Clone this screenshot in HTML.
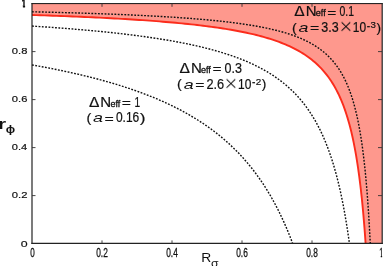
<!DOCTYPE html>
<html><head><meta charset="utf-8"><style>
html,body{margin:0;padding:0;background:#fff;}
body{width:383px;height:266px;overflow:hidden;position:relative;font-family:"Liberation Sans",sans-serif;}
svg{position:absolute;left:0;top:0;}
text{font-family:"Liberation Sans",sans-serif;fill:#111;vector-effect:non-scaling-stroke;}
</style></head><body>
<svg style="will-change:transform" width="383" height="266" viewBox="0 0 383 266">
<rect width="383" height="266" fill="#fff"/>
<defs>
<clipPath id="cy1"><path d="M20,-2 H25.1 V9 H22.9 V5.5 H20 Z"/></clipPath>
<clipPath id="cx1"><path d="M377,245 H383 V255.5 H382.1 V259 H380.8 V255.5 H377 Z"/></clipPath>
</defs>
<path d="M32.00,14.98 L36.18,15.12 L40.34,15.26 L44.47,15.40 L48.57,15.54 L52.65,15.69 L56.70,15.83 L60.73,15.99 L64.73,16.14 L68.70,16.30 L72.65,16.46 L76.56,16.62 L80.46,16.79 L84.32,16.96 L88.16,17.13 L91.98,17.30 L95.77,17.48 L99.53,17.67 L103.26,17.85 L106.97,18.04 L110.65,18.24 L114.31,18.44 L117.94,18.64 L121.54,18.84 L125.11,19.05 L128.66,19.27 L132.19,19.49 L135.68,19.71 L139.16,19.94 L142.60,20.17 L146.02,20.41 L149.41,20.65 L152.77,20.90 L156.11,21.15 L159.43,21.41 L162.71,21.68 L165.97,21.95 L169.20,22.22 L172.41,22.51 L175.59,22.80 L178.74,23.09 L181.87,23.39 L184.97,23.70 L188.05,24.02 L191.10,24.34 L194.12,24.67 L197.11,25.01 L200.08,25.36 L203.03,25.72 L205.94,26.08 L208.83,26.45 L211.70,26.83 L214.53,27.22 L217.34,27.63 L220.13,28.04 L222.89,28.46 L225.62,28.89 L228.32,29.33 L231.00,29.78 L233.66,30.25 L236.28,30.73 L238.88,31.22 L241.45,31.72 L244.00,32.24 L246.52,32.77 L249.02,33.31 L251.48,33.87 L253.93,34.44 L256.34,35.03 L258.73,35.64 L261.09,36.26 L263.43,36.90 L265.74,37.56 L268.02,38.24 L270.28,38.94 L272.51,39.65 L274.71,40.39 L276.89,41.15 L279.04,41.93 L281.16,42.74 L283.26,43.56 L285.33,44.42 L287.38,45.30 L289.40,46.20 L291.39,47.14 L293.36,48.10 L295.30,49.09 L297.21,50.11 L299.10,51.17 L300.96,52.26 L302.79,53.38 L304.60,54.54 L306.38,55.74 L308.14,56.97 L309.86,58.25 L311.57,59.56 L313.24,60.93 L314.89,62.33 L316.52,63.78 L318.11,65.28 L319.68,66.83 L321.23,68.44 L322.74,70.09 L324.24,71.81 L325.70,73.58 L327.14,75.41 L328.55,77.30 L329.94,79.26 L331.30,81.28 L332.63,83.38 L333.94,85.54 L335.22,87.78 L336.47,90.09 L337.70,92.48 L338.90,94.96 L340.07,97.51 L341.22,100.15 L342.34,102.88 L343.44,105.69 L344.51,108.60 L345.55,111.60 L346.56,114.69 L347.55,117.88 L348.52,121.16 L349.45,124.54 L350.36,128.02 L351.25,131.59 L352.11,135.26 L352.94,139.02 L353.74,142.87 L354.52,146.82 L355.27,150.84 L356.00,154.95 L356.70,159.13 L357.37,163.37 L358.02,167.68 L358.64,172.03 L359.23,176.42 L359.80,180.83 L360.34,185.26 L360.86,189.68 L361.34,194.07 L361.81,198.42 L362.24,202.71 L362.65,206.92 L363.03,211.02 L363.39,214.99 L363.72,218.80 L364.02,222.43 L364.30,225.86 L364.55,229.05 L364.78,231.98 L364.97,234.64 L365.14,236.99 L365.29,239.01 L365.41,240.70 L365.50,242.02 L365.57,242.98 L365.61,243.56 L365.62,243.75 L382.00,243.75 L382.00,3.75 L32.00,3.75 Z" fill="#fe988d"/>
<path d="M32.00,14.98 L36.18,15.12 L40.34,15.26 L44.47,15.40 L48.57,15.54 L52.65,15.69 L56.70,15.83 L60.73,15.99 L64.73,16.14 L68.70,16.30 L72.65,16.46 L76.56,16.62 L80.46,16.79 L84.32,16.96 L88.16,17.13 L91.98,17.30 L95.77,17.48 L99.53,17.67 L103.26,17.85 L106.97,18.04 L110.65,18.24 L114.31,18.44 L117.94,18.64 L121.54,18.84 L125.11,19.05 L128.66,19.27 L132.19,19.49 L135.68,19.71 L139.16,19.94 L142.60,20.17 L146.02,20.41 L149.41,20.65 L152.77,20.90 L156.11,21.15 L159.43,21.41 L162.71,21.68 L165.97,21.95 L169.20,22.22 L172.41,22.51 L175.59,22.80 L178.74,23.09 L181.87,23.39 L184.97,23.70 L188.05,24.02 L191.10,24.34 L194.12,24.67 L197.11,25.01 L200.08,25.36 L203.03,25.72 L205.94,26.08 L208.83,26.45 L211.70,26.83 L214.53,27.22 L217.34,27.63 L220.13,28.04 L222.89,28.46 L225.62,28.89 L228.32,29.33 L231.00,29.78 L233.66,30.25 L236.28,30.73 L238.88,31.22 L241.45,31.72 L244.00,32.24 L246.52,32.77 L249.02,33.31 L251.48,33.87 L253.93,34.44 L256.34,35.03 L258.73,35.64 L261.09,36.26 L263.43,36.90 L265.74,37.56 L268.02,38.24 L270.28,38.94 L272.51,39.65 L274.71,40.39 L276.89,41.15 L279.04,41.93 L281.16,42.74 L283.26,43.56 L285.33,44.42 L287.38,45.30 L289.40,46.20 L291.39,47.14 L293.36,48.10 L295.30,49.09 L297.21,50.11 L299.10,51.17 L300.96,52.26 L302.79,53.38 L304.60,54.54 L306.38,55.74 L308.14,56.97 L309.86,58.25 L311.57,59.56 L313.24,60.93 L314.89,62.33 L316.52,63.78 L318.11,65.28 L319.68,66.83 L321.23,68.44 L322.74,70.09 L324.24,71.81 L325.70,73.58 L327.14,75.41 L328.55,77.30 L329.94,79.26 L331.30,81.28 L332.63,83.38 L333.94,85.54 L335.22,87.78 L336.47,90.09 L337.70,92.48 L338.90,94.96 L340.07,97.51 L341.22,100.15 L342.34,102.88 L343.44,105.69 L344.51,108.60 L345.55,111.60 L346.56,114.69 L347.55,117.88 L348.52,121.16 L349.45,124.54 L350.36,128.02 L351.25,131.59 L352.11,135.26 L352.94,139.02 L353.74,142.87 L354.52,146.82 L355.27,150.84 L356.00,154.95 L356.70,159.13 L357.37,163.37 L358.02,167.68 L358.64,172.03 L359.23,176.42 L359.80,180.83 L360.34,185.26 L360.86,189.68 L361.34,194.07 L361.81,198.42 L362.24,202.71 L362.65,206.92 L363.03,211.02 L363.39,214.99 L363.72,218.80 L364.02,222.43 L364.30,225.86 L364.55,229.05 L364.78,231.98 L364.97,234.64 L365.14,236.99 L365.29,239.01 L365.41,240.70 L365.50,242.02 L365.57,242.98 L365.61,243.56 L365.62,243.75" fill="none" stroke="#fb2c1c" stroke-width="1.9"/>
<g fill="none" stroke="#111" stroke-width="1.4" stroke-dasharray="1.8,1.5">
<path d="M32.00,64.95 L35.27,65.53 L38.52,66.11 L41.75,66.70 L44.95,67.30 L48.14,67.91 L51.31,68.52 L54.45,69.15 L57.58,69.78 L60.68,70.41 L63.77,71.06 L66.83,71.71 L69.87,72.38 L72.90,73.05 L75.90,73.73 L78.88,74.41 L81.84,75.11 L84.78,75.82 L87.70,76.53 L90.59,77.26 L93.47,77.99 L96.33,78.73 L99.17,79.48 L101.98,80.24 L104.78,81.02 L107.55,81.80 L110.30,82.59 L113.04,83.39 L115.75,84.20 L118.44,85.02 L121.11,85.85 L123.76,86.70 L126.39,87.55 L129.00,88.42 L131.59,89.29 L134.16,90.18 L136.71,91.07 L139.24,91.98 L141.74,92.90 L144.23,93.84 L146.69,94.78 L149.14,95.74 L151.56,96.70 L153.96,97.68 L156.35,98.67 L158.71,99.68 L161.05,100.69 L163.37,101.72 L165.67,102.77 L167.95,103.82 L170.21,104.89 L172.45,105.97 L174.66,107.06 L176.86,108.17 L179.04,109.29 L181.19,110.42 L183.33,111.57 L185.44,112.73 L187.54,113.90 L189.61,115.09 L191.66,116.29 L193.69,117.50 L195.70,118.73 L197.70,119.97 L199.67,121.23 L201.61,122.50 L203.54,123.78 L205.45,125.08 L207.34,126.39 L209.21,127.71 L211.05,129.05 L212.88,130.40 L214.68,131.77 L216.47,133.15 L218.23,134.54 L219.97,135.95 L221.70,137.37 L223.40,138.81 L225.08,140.25 L226.74,141.71 L228.38,143.18 L230.00,144.67 L231.60,146.17 L233.18,147.68 L234.73,149.20 L236.27,150.73 L237.79,152.28 L239.28,153.84 L240.76,155.40 L242.21,156.98 L243.64,158.57 L245.06,160.17 L246.45,161.77 L247.82,163.39 L249.17,165.01 L250.50,166.64 L251.81,168.28 L253.10,169.93 L254.37,171.58 L255.62,173.24 L256.85,174.90 L258.05,176.57 L259.24,178.24 L260.41,179.91 L261.55,181.58 L262.67,183.26 L263.78,184.93 L264.86,186.61 L265.92,188.28 L266.96,189.95 L267.99,191.62 L268.99,193.28 L269.97,194.94 L270.93,196.59 L271.86,198.24 L272.78,199.87 L273.68,201.50 L274.56,203.11 L275.41,204.71 L276.25,206.30 L277.06,207.87 L277.86,209.43 L278.63,210.97 L279.38,212.49 L280.12,213.99 L280.83,215.47 L281.52,216.92 L282.19,218.35 L282.84,219.76 L283.47,221.14 L284.08,222.49 L284.66,223.81 L285.23,225.10 L285.78,226.36 L286.30,227.58 L286.81,228.77 L287.29,229.92 L287.76,231.04 L288.20,232.11 L288.62,233.15 L289.03,234.14 L289.41,235.09 L289.77,235.99 L290.11,236.85 L290.43,237.67 L290.73,238.43 L291.01,239.15 L291.26,239.82 L291.50,240.44 L291.72,241.01 L291.91,241.52 L292.09,241.99 L292.24,242.40 L292.38,242.76 L292.49,243.06 L292.58,243.31 L292.66,243.50 L292.71,243.64 L292.74,243.72 L292.75,243.75"/>
<path d="M32.00,26.07 L35.98,26.33 L39.94,26.59 L43.87,26.85 L47.77,27.12 L51.65,27.40 L55.51,27.68 L59.34,27.96 L63.14,28.25 L66.92,28.54 L70.68,28.84 L74.40,29.15 L78.11,29.46 L81.79,29.77 L85.44,30.09 L89.07,30.42 L92.67,30.75 L96.25,31.09 L99.81,31.43 L103.34,31.78 L106.84,32.14 L110.32,32.50 L113.77,32.87 L117.20,33.25 L120.60,33.64 L123.98,34.03 L127.33,34.43 L130.66,34.83 L133.96,35.25 L137.24,35.67 L140.49,36.10 L143.72,36.53 L146.92,36.98 L150.10,37.44 L153.25,37.90 L156.38,38.37 L159.48,38.86 L162.55,39.35 L165.60,39.85 L168.63,40.36 L171.63,40.88 L174.61,41.42 L177.56,41.96 L180.48,42.52 L183.39,43.08 L186.26,43.66 L189.11,44.25 L191.94,44.85 L194.74,45.47 L197.51,46.09 L200.26,46.73 L202.99,47.39 L205.69,48.06 L208.36,48.74 L211.01,49.44 L213.63,50.15 L216.23,50.88 L218.81,51.62 L221.36,52.38 L223.88,53.16 L226.38,53.95 L228.85,54.76 L231.30,55.59 L233.73,56.44 L236.12,57.30 L238.50,58.19 L240.85,59.09 L243.17,60.02 L245.47,60.97 L247.74,61.94 L249.99,62.93 L252.21,63.94 L254.41,64.98 L256.58,66.04 L258.73,67.12 L260.85,68.23 L262.95,69.37 L265.02,70.53 L267.06,71.72 L269.09,72.94 L271.08,74.18 L273.05,75.46 L275.00,76.76 L276.92,78.09 L278.82,79.46 L280.69,80.86 L282.53,82.29 L284.36,83.75 L286.15,85.25 L287.92,86.79 L289.67,88.36 L291.39,89.96 L293.08,91.61 L294.75,93.29 L296.40,95.01 L298.02,96.77 L299.61,98.57 L301.18,100.41 L302.73,102.29 L304.25,104.22 L305.74,106.19 L307.21,108.20 L308.65,110.26 L310.07,112.36 L311.47,114.50 L312.83,116.70 L314.18,118.93 L315.50,121.22 L316.79,123.55 L318.06,125.92 L319.30,128.35 L320.52,130.81 L321.71,133.33 L322.88,135.89 L324.02,138.49 L325.14,141.14 L326.23,143.83 L327.30,146.56 L328.34,149.34 L329.36,152.15 L330.35,155.00 L331.32,157.89 L332.26,160.81 L333.18,163.75 L334.07,166.73 L334.93,169.73 L335.78,172.75 L336.59,175.79 L337.38,178.84 L338.15,181.90 L338.89,184.96 L339.61,188.02 L340.30,191.07 L340.96,194.11 L341.60,197.13 L342.22,200.12 L342.81,203.07 L343.37,205.99 L343.91,208.86 L344.43,211.67 L344.92,214.41 L345.38,217.09 L345.82,219.68 L346.24,222.18 L346.62,224.58 L346.99,226.88 L347.33,229.06 L347.64,231.12 L347.93,233.05 L348.19,234.84 L348.43,236.48 L348.65,237.97 L348.83,239.30 L349.00,240.46 L349.14,241.46 L349.25,242.28 L349.34,242.92 L349.40,243.38 L349.44,243.66 L349.45,243.75"/>
<path d="M32.00,11.79 L36.24,11.89 L40.46,11.99 L44.64,12.09 L48.81,12.20 L52.94,12.30 L57.05,12.41 L61.13,12.52 L65.18,12.63 L69.21,12.75 L73.21,12.86 L77.19,12.98 L81.13,13.10 L85.05,13.23 L88.95,13.35 L92.81,13.48 L96.66,13.61 L100.47,13.75 L104.26,13.88 L108.02,14.02 L111.75,14.16 L115.45,14.31 L119.13,14.46 L122.79,14.61 L126.41,14.76 L130.01,14.92 L133.59,15.08 L137.13,15.24 L140.65,15.41 L144.14,15.58 L147.61,15.76 L151.05,15.93 L154.46,16.12 L157.84,16.30 L161.20,16.49 L164.53,16.69 L167.84,16.89 L171.12,17.09 L174.37,17.30 L177.59,17.52 L180.79,17.74 L183.96,17.96 L187.11,18.19 L190.23,18.42 L193.32,18.66 L196.38,18.91 L199.42,19.16 L202.43,19.42 L205.41,19.69 L208.37,19.96 L211.30,20.24 L214.20,20.52 L217.08,20.81 L219.93,21.11 L222.75,21.42 L225.55,21.74 L228.32,22.06 L231.06,22.39 L233.78,22.74 L236.47,23.09 L239.13,23.45 L241.77,23.82 L244.38,24.20 L246.96,24.59 L249.52,24.99 L252.04,25.40 L254.55,25.83 L257.02,26.27 L259.47,26.72 L261.89,27.18 L264.29,27.66 L266.66,28.15 L269.00,28.65 L271.31,29.17 L273.60,29.71 L275.86,30.26 L278.10,30.83 L280.30,31.42 L282.48,32.03 L284.64,32.65 L286.77,33.30 L288.87,33.96 L290.94,34.65 L292.99,35.36 L295.01,36.10 L297.00,36.86 L298.97,37.64 L300.91,38.45 L302.82,39.29 L304.71,40.16 L306.57,41.06 L308.40,41.99 L310.21,42.95 L311.99,43.94 L313.74,44.98 L315.47,46.05 L317.17,47.15 L318.84,48.30 L320.49,49.50 L322.10,50.73 L323.70,52.02 L325.26,53.35 L326.80,54.73 L328.31,56.17 L329.80,57.66 L331.26,59.21 L332.69,60.82 L334.09,62.49 L335.47,64.23 L336.82,66.04 L338.15,67.92 L339.45,69.88 L340.72,71.91 L341.96,74.03 L343.18,76.24 L344.37,78.53 L345.53,80.92 L346.67,83.40 L347.78,85.99 L348.87,88.68 L349.92,91.48 L350.95,94.39 L351.96,97.42 L352.93,100.56 L353.88,103.83 L354.81,107.23 L355.70,110.76 L356.57,114.42 L357.42,118.22 L358.23,122.15 L359.02,126.21 L359.78,130.42 L360.52,134.76 L361.23,139.23 L361.91,143.83 L362.57,148.56 L363.20,153.40 L363.80,158.36 L364.37,163.40 L364.92,168.53 L365.44,173.72 L365.94,178.96 L366.41,184.23 L366.85,189.49 L367.26,194.72 L367.65,199.88 L368.01,204.95 L368.35,209.88 L368.66,214.63 L368.94,219.17 L369.19,223.44 L369.42,227.41 L369.62,231.04 L369.79,234.28 L369.94,237.09 L370.06,239.45 L370.15,241.31 L370.22,242.66 L370.26,243.48 L370.28,243.75"/>
</g>
<g stroke="#222" stroke-width="1" fill="none">
<path d="M32,3.2 V243.9" stroke-width="1.2"/>
<path d="M31.4,243.4 H382.8" stroke-width="1.1"/>
<path d="M31.4,3.6 H382.8" stroke="#111" stroke-width="1"/>
<path d="M382.2,3.2 V243.9" stroke-width="1.2"/>
<g transform="translate(0,0.6)" stroke="#333" stroke-width="0.9">
<path d="M32,51 h3.5 M32,99 h3.5 M32,147 h3.5 M32,195 h3.5 M382,51 h-4 M382,99 h-4 M382,147 h-4 M382,195 h-4"/>
<path d="M102,243 v-3.2 M172,243 v-3.2 M242,243 v-3.2 M312,243 v-3.2 M102,3 v3.2 M172,3 v3.2 M242,3 v3.2 M312,3 v3.2"/>
</g>
</g>
<g stroke="#111" stroke-width="0.2">
<g clip-path="url(#cy1)"><text transform="translate(21.63,6.60) scale(0.703,1)" font-size="10.57" stroke-width="0.7">1</text></g>
<text transform="translate(20.71,246.81) scale(1.288,1)" font-size="9.61">0</text>
<text transform="translate(11.86,54.30) scale(1.135,1)" font-size="9.87">0.8</text>
<text transform="translate(11.86,102.30) scale(1.136,1)" font-size="9.87">0.6</text>
<text transform="translate(11.86,150.30) scale(1.123,1)" font-size="9.86">0.4</text>
<text transform="translate(11.86,198.30) scale(1.140,1)" font-size="9.87">0.2</text>
</g>
<g font-size="12.5" text-anchor="middle" stroke="#111" stroke-width="0.3">
<text x="32.5" y="257" textLength="4.5" lengthAdjust="spacingAndGlyphs">0</text>
<text x="102" y="257" textLength="11.6" lengthAdjust="spacingAndGlyphs">0.2</text>
<text x="172" y="257" textLength="11.6" lengthAdjust="spacingAndGlyphs">0.4</text>
<text x="242" y="257" textLength="11.6" lengthAdjust="spacingAndGlyphs">0.6</text>
<text x="312" y="257" textLength="11.6" lengthAdjust="spacingAndGlyphs">0.8</text>
</g><g clip-path="url(#cx1)" font-size="12.5" text-anchor="middle" stroke="#111" stroke-width="0.3"><text x="381.2" y="257" textLength="4" lengthAdjust="spacingAndGlyphs">1</text>
</g>
<text transform="translate(-1.99,129.00) scale(1.432,1)" font-size="14.55" style="font-weight:bold">r</text>
<text transform="translate(5.80,133.30) scale(1.252,1)" font-size="10.00" style="font-weight:bold">ϕ</text>
<text transform="translate(201.36,262.10) scale(1.140,1)" font-size="12.14">R</text>
<text transform="translate(211.07,267.01) scale(1.175,1)" font-size="10.39">σ</text>
<g stroke="#111" stroke-width="0.2" style="vector-effect:non-scaling-stroke">
<text transform="translate(179.52,72.90) scale(1.117,1)" font-size="14.00">Δ</text>
<text transform="translate(190.96,72.90) scale(1.076,1)" font-size="14.00">N</text>
<text transform="translate(201.01,72.90) scale(1.039,1)" font-size="8.68" stroke-width="0.3">eff</text>
<text transform="translate(212.42,73.42) scale(1.185,1)" font-size="13.23">=</text>
<text transform="translate(224.61,73.00) scale(0.875,1)" font-size="14.31">0.3</text>
<text transform="translate(177.08,88.41) scale(1.077,1)" font-size="13.47">(</text>
<text transform="translate(183.65,88.50) scale(1.380,1)" font-size="12.93" style="font-style:italic" stroke="none">a</text>
<text transform="translate(195.21,88.92) scale(1.201,1)" font-size="13.23">=</text>
<text transform="translate(206.45,88.50) scale(0.893,1)" font-size="14.31">2.6</text>
<text transform="translate(224.34,90.92) scale(1.080,1)" font-size="21.21" stroke="#fff" stroke-width="0.55">×</text>
<text transform="translate(237.99,88.50) scale(0.836,1)" font-size="14.29">10</text>
<text transform="translate(252.04,86.43) scale(0.817,1)" font-size="12.56">-</text>
<text transform="translate(255.70,84.80) scale(1.096,1)" font-size="9.02">2</text>
<text transform="translate(261.69,88.41) scale(1.022,1)" font-size="13.47">)</text>
<text transform="translate(294.32,16.10) scale(1.117,1)" font-size="14.00">Δ</text>
<text transform="translate(305.76,16.10) scale(1.076,1)" font-size="14.00">N</text>
<text transform="translate(315.81,16.10) scale(1.039,1)" font-size="8.68" stroke-width="0.3">eff</text>
<text transform="translate(327.22,16.62) scale(1.185,1)" font-size="13.23">=</text>
<text transform="translate(339.49,16.20) scale(0.733,1)" font-size="14.29">0.1</text>
<text transform="translate(291.88,31.61) scale(1.077,1)" font-size="13.47">(</text>
<text transform="translate(298.45,31.70) scale(1.380,1)" font-size="12.93" style="font-style:italic" stroke="none">a</text>
<text transform="translate(310.01,32.12) scale(1.201,1)" font-size="13.23">=</text>
<text transform="translate(321.34,31.70) scale(0.873,1)" font-size="14.31">3.3</text>
<text transform="translate(339.14,34.12) scale(1.080,1)" font-size="21.21" stroke="#fe988d" stroke-width="0.55">×</text>
<text transform="translate(352.79,31.70) scale(0.836,1)" font-size="14.29">10</text>
<text transform="translate(366.84,29.63) scale(0.817,1)" font-size="12.56">-</text>
<text transform="translate(370.57,28.11) scale(1.054,1)" font-size="9.19">3</text>
<text transform="translate(376.49,31.61) scale(1.022,1)" font-size="13.47">)</text>
<text transform="translate(88.92,106.50) scale(1.117,1)" font-size="14.00">Δ</text>
<text transform="translate(100.36,106.50) scale(1.076,1)" font-size="14.00">N</text>
<text transform="translate(110.41,106.50) scale(1.039,1)" font-size="8.68" stroke-width="0.3">eff</text>
<text transform="translate(121.82,107.02) scale(1.185,1)" font-size="13.23">=</text>
<text transform="translate(134.42,106.50) scale(0.729,1)" font-size="14.00">1</text>
<text transform="translate(86.48,122.01) scale(1.077,1)" font-size="13.47">(</text>
<text transform="translate(93.05,122.10) scale(1.380,1)" font-size="12.93" style="font-style:italic" stroke="none">a</text>
<text transform="translate(104.61,122.52) scale(1.201,1)" font-size="13.23">=</text>
<text transform="translate(115.93,122.10) scale(0.840,1)" font-size="14.29">0.16</text>
<text transform="translate(139.84,122.01) scale(1.285,1)" font-size="13.47">)</text>
</g>
</svg>
</body></html>
